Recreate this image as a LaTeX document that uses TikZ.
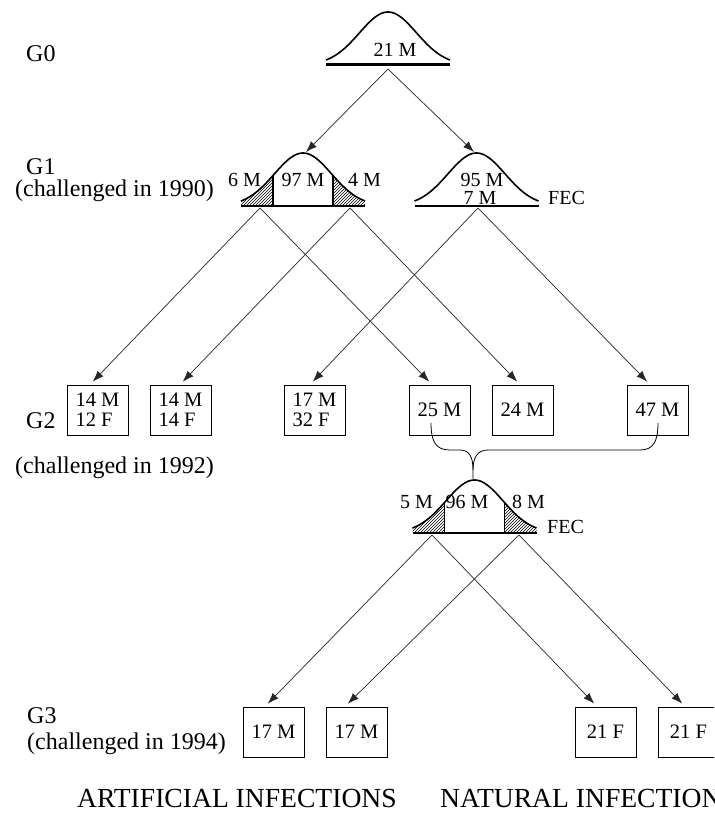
\documentclass[tikz,border=0pt]{standalone}
\usepackage{fontspec}
\setmainfont{Liberation Serif}
\usetikzlibrary{arrows.meta,patterns}
\newcommand{\bellcurve}[2]{\draw[bellline] plot[domain=-62:62,samples=61,smooth] ({#1+\x},{#2-53*exp(-(\x)*(\x)/1628)});}
\newcommand{\lefttail}[2]{%
  \fill[pattern=north east lines] plot[domain=-62:-30,samples=20,smooth] ({#1+\x},{#2-53*exp(-(\x)*(\x)/1628)}) -- ({#1-30},#2) -- ({#1-62},#2) -- cycle;
  \draw[line width=1.2pt] ({#1-30},{#2-53*exp(-900/1628)}) -- ({#1-30},#2);}
\newcommand{\righttail}[2]{%
  \fill[pattern=north east lines] plot[domain=30:62,samples=20,smooth] ({#1+\x},{#2-53*exp(-(\x)*(\x)/1628)}) -- ({#1+62},#2) -- ({#1+30},#2) -- cycle;
  \draw[line width=1.2pt] ({#1+30},{#2-53*exp(-900/1628)}) -- ({#1+30},#2);}
\tikzset{
  bellline/.style={line width=1.6pt},
  baseln/.style={line width=1.3pt},
  conn/.style={draw=black!85, line width=0.7pt, -{Latex[length=11pt,width=8pt]}, shorten >=4pt},
  box/.style={draw, line width=1pt, minimum width=61pt, minimum height=50pt, inner sep=0pt, font=\fontsize{20.5}{20}\selectfont, align=left},
  lbl/.style={font=\fontsize{24}{24}\selectfont, anchor=base west, inner sep=0pt},
  bl/.style={font=\fontsize{20}{20}\selectfont, inner sep=0pt},
  big/.style={font=\fontsize{27.6}{27.6}\selectfont, anchor=base west, inner sep=0pt},
}
\begin{document}
\begin{tikzpicture}[x=1pt,y=-1pt]
\fill[white] (0,0) rectangle (714,818);
\clip (0,0) rectangle (714,818);
\useasboundingbox (0,0) rectangle (714,818);

% generation labels
\node[lbl] (g0) at (26,62) {G0};
\node[lbl] (g1) at (26,175) {G1};
\node[lbl] (g1c) at (15,197) {(challenged in 1990)};
\node[lbl] (g2) at (26,428) {G2};
\node[lbl] (g2c) at (15,473) {(challenged in 1992)};
\node[lbl] (g3) at (27,723) {G3};
\node[lbl] (g3c) at (27,749) {(challenged in 1994)};
\node[big] (art) at (77,807) {ARTIFICIAL INFECTIONS};
\node[big] (nat) at (440,807) {NATURAL INFECTIONS};

% G0 bell
\bellcurve{388}{65}
\draw[line width=3pt] (326,65) -- (450,65);
\node[bl, anchor=base] (l21) at (395,57) {21 M};
\coordinate (g0s) at (388,69);

% G1 left bell
\lefttail{303}{206}
\righttail{303}{206}
\bellcurve{303}{206}
\draw[baseln] (241,206) -- (365,206);
\node[bl, anchor=base east] (l6) at (261,187) {6 M};
\node[bl, anchor=base] (l97) at (303,187) {97 M};
\node[bl, anchor=base west] (l4) at (348,187) {4 M};
\coordinate (p1) at (306,152);
\coordinate (s1) at (260,208);
\coordinate (s2) at (350,208);

% G1 right bell
\bellcurve{476.5}{206}
\draw[baseln] (414.5,206) -- (538.5,206);
\node[bl, anchor=base] (l95) at (482,187) {95 M};
\node[bl, anchor=base] (l7) at (480,205) {7 M};
\node[bl, anchor=base west] (fec1) at (548,205) {FEC};
\coordinate (p2) at (474,152);
\coordinate (s3) at (478,208);

\draw[conn, shorten >=0pt] (g0s) -- (p1);
\draw[conn, shorten >=0pt] (g0s) -- (p2);

% G2 boxes
\node[box] (b1) at (97.5,410) {14 M\\12 F};
\node[box] (b2) at (180.5,410) {14 M\\14 F};
\node[box] (b3) at (314.5,410) {17 M\\32 F};
\node[box] (b4) at (439.5,410) {25 M};
\node[box] (b5) at (522.5,410) {24 M};
\node[box] (b6) at (657.5,410) {47 M};

\draw[conn] (s1) -- ([xshift=-7.5pt]b1.north);
\draw[conn] (s1) -- ([xshift=-7.5pt]b4.north);
\draw[conn] (s2) -- ([xshift=-0.5pt]b2.north);
\draw[conn] (s2) -- ([xshift=-2.5pt]b5.north);
\draw[conn] (s3) -- ([xshift=-4.5pt]b3.north);
\draw[conn] (s3) -- ([xshift=-7.5pt]b6.north);

% brace joining 25 M and 47 M
\coordinate (br1) at (431,423);
\coordinate (br2) at (658,423);
\coordinate (brt) at (473,479);
\draw[line width=0.8pt] (br1) .. controls (431,442) and (436,450) .. (450,450) -- (460,450)
   .. controls (470,450) and (473,458) .. (473,470) -- (brt);
\draw[line width=0.8pt] (br2) .. controls (658,442) and (653,450) .. (640,450) -- (488,450)
   .. controls (477,450) and (473,458) .. (473,470);

% G3 bell (1992)
\lefttail{474.5}{533}
\righttail{474.5}{533}
\bellcurve{474.5}{533}
\draw[baseln] (412.5,533) -- (536.5,533);
\node[bl, anchor=base east] (l5) at (433,508) {5 M};
\node[bl, anchor=base] (l96) at (467,508) {96 M};
\node[bl, anchor=base west] (l8) at (512,508) {8 M};
\node[bl, anchor=base west] (fec2) at (547,533) {FEC};
\coordinate (t1) at (432,535);
\coordinate (t2) at (519,535);

% G3 boxes
\node[box] (c1) at (273.5,732) {17 M};
\node[box] (c2) at (356.5,732) {17 M};
\node[box] (c3) at (605.5,732) {21 F};
\node[box] (c4) at (688.5,732) {21 F};

\draw[conn] (t1) -- ([xshift=-8.5pt]c1.north);
\draw[conn] (t1) -- ([xshift=-8.5pt]c3.north);
\draw[conn] (t2) -- ([xshift=-11.5pt]c2.north);
\draw[conn] (t2) -- ([xshift=-3.5pt]c4.north);
\end{tikzpicture}
\end{document}
